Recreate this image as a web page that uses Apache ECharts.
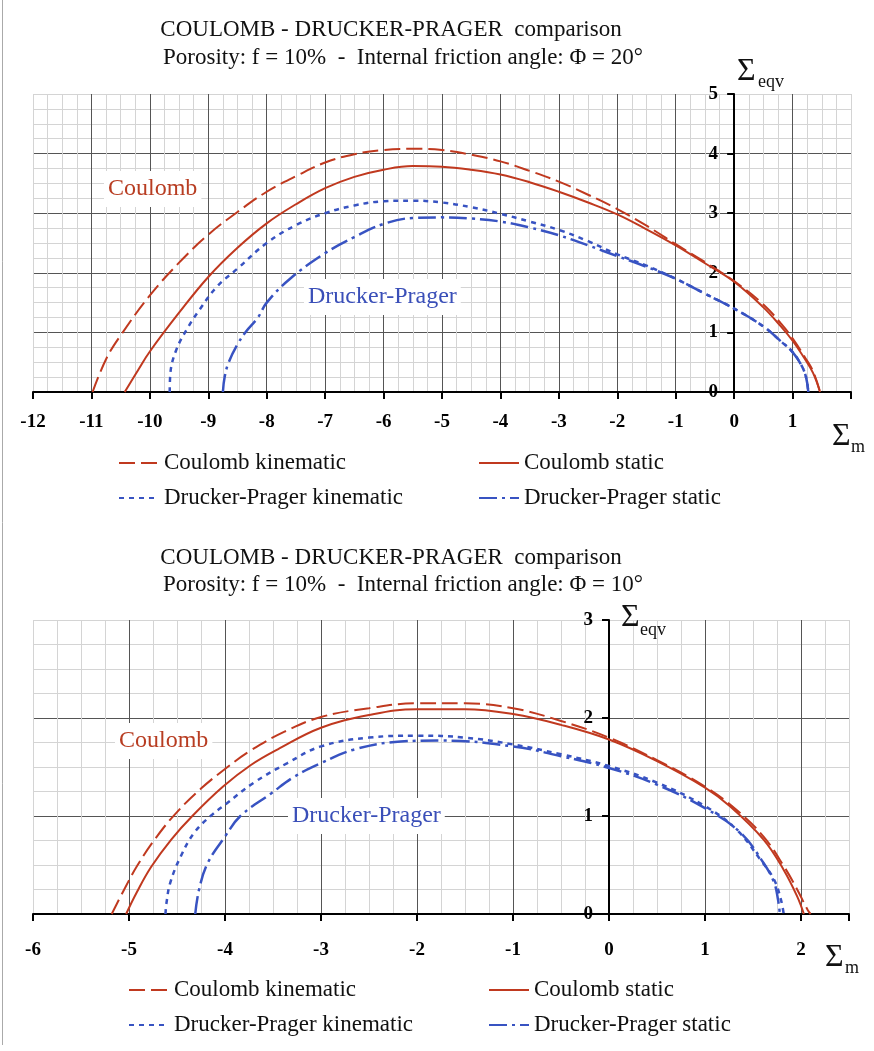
<!DOCTYPE html>
<html>
<head>
<meta charset="utf-8">
<script src="https://cdn.jsdelivr.net/npm/echarts/dist/echarts.min.js"></script>
<style>
  body { margin: 0; background: #fff; }
  #main { width: 874px; height: 1051px; }
</style>
</head>
<body>
<div id="main"></div>
<script>
  // ---- data ----
  // chart 1 : friction angle 20 deg
  var c1CoulKinX = [-10.98, -10.75, -10.5, -10.0, -9.5, -9.0, -8.5, -8.0, -7.5, -7.0, -6.5, -6.0, -5.5, -5.0, -4.5, -4.0, -3.5, -3.0, -2.5, -2.0, -1.5, -1.0, -0.5, 0, 0.5, 0.8, 1.0, 1.2, 1.35, 1.47];
  var c1CoulKinY = [0, 0.55, 0.95, 1.62, 2.17, 2.64, 3.02, 3.36, 3.62, 3.85, 3.99, 4.06, 4.08, 4.06, 3.98, 3.87, 3.71, 3.53, 3.31, 3.07, 2.79, 2.48, 2.18, 1.86, 1.47, 1.15, 0.9, 0.6, 0.35, 0];
  var c1CoulStaX = [-10.43, -10.2, -10.0, -9.5, -9.0, -8.5, -8.0, -7.5, -7.0, -6.5, -6.0, -5.5, -5.0, -4.5, -4.0, -3.5, -3.0, -2.5, -2.0, -1.5, -1.0, -0.5, 0, 0.5, 0.8, 1.0, 1.2, 1.35, 1.47];
  var c1CoulStaY = [0, 0.37, 0.68, 1.33, 1.93, 2.42, 2.83, 3.15, 3.42, 3.61, 3.73, 3.79, 3.78, 3.73, 3.65, 3.52, 3.36, 3.18, 2.98, 2.73, 2.46, 2.16, 1.85, 1.42, 1.1, 0.86, 0.57, 0.32, 0];
  var c1DpKinX = [-9.66, -9.65, -9.55, -9.35, -9.15, -8.85, -8.5, -8.0, -7.5, -7.0, -6.5, -6.0, -5.5, -5.0, -4.5, -4.0, -3.5, -3.0, -2.5, -2.0, -1.5, -1.0, -0.5, 0, 0.5, 0.8, 1.0, 1.15, 1.23, 1.27];
  var c1DpKinY = [0, 0.3, 0.7, 1.08, 1.38, 1.77, 2.07, 2.5, 2.8, 3.0, 3.13, 3.2, 3.21, 3.18, 3.1, 2.99, 2.86, 2.72, 2.53, 2.31, 2.12, 1.9, 1.65, 1.4, 1.1, 0.85, 0.67, 0.45, 0.25, 0];
  var c1DpStaX = [-8.75, -8.72, -8.65, -8.5, -8.35, -8.15, -8.0, -7.6, -7.0, -6.5, -6.0, -5.5, -5.0, -4.5, -4.0, -3.5, -3.0, -2.5, -2.0, -1.5, -1.0, -0.5, 0, 0.5, 0.8, 1.0, 1.15, 1.23, 1.27];
  var c1DpStaY = [0, 0.25, 0.5, 0.8, 1.02, 1.25, 1.5, 1.9, 2.33, 2.6, 2.82, 2.92, 2.93, 2.91, 2.86, 2.76, 2.63, 2.46, 2.28, 2.1, 1.9, 1.65, 1.4, 1.1, 0.85, 0.67, 0.45, 0.25, 0];

  // chart 2 : friction angle 10 deg
  var c2CoulKinX = [-5.18, -5.05, -4.91, -4.71, -4.5, -4.25, -4.0, -3.73, -3.38, -3.0, -2.5, -2.0, -1.5, -1.0, -0.5, 0, 0.5, 1.0, 1.33, 1.61, 1.82, 1.96, 2.07, 2.1];
  var c2CoulKinY = [0, 0.25, 0.5, 0.79, 1.04, 1.28, 1.48, 1.67, 1.86, 2.01, 2.1, 2.15, 2.15, 2.1, 1.97, 1.8, 1.57, 1.3, 1.06, 0.79, 0.49, 0.25, 0.04, 0];
  var c2CoulStaX = [-5.03, -4.92, -4.77, -4.56, -4.34, -4.02, -3.73, -3.45, -3.0, -2.5, -2.0, -1.5, -1.0, -0.5, 0, 0.5, 1.0, 1.26, 1.61, 1.82, 1.96, 2.03];
  var c2CoulStaY = [0, 0.22, 0.48, 0.76, 1.0, 1.3, 1.52, 1.68, 1.9, 2.03, 2.09, 2.09, 2.04, 1.93, 1.78, 1.56, 1.29, 1.1, 0.76, 0.45, 0.18, 0];
  var c2DpKinX = [-4.62, -4.61, -4.57, -4.46, -4.32, -4.15, -3.98, -3.7, -3.35, -3.0, -2.5, -2.0, -1.5, -1.0, -0.5, 0, 0.5, 1.0, 1.33, 1.58, 1.72, 1.79, 1.82];
  var c2DpKinY = [0, 0.11, 0.32, 0.59, 0.83, 1.0, 1.13, 1.34, 1.54, 1.71, 1.8, 1.82, 1.8, 1.73, 1.63, 1.51, 1.34, 1.1, 0.86, 0.55, 0.35, 0.15, 0];
  var c2DpStaX = [-4.31, -4.27, -4.18, -4.0, -3.84, -3.52, -3.28, -3.0, -2.65, -2.17, -1.75, -1.0, -0.5, 0, 0.5, 1.0, 1.37, 1.61, 1.72, 1.76, 1.78];
  var c2DpStaY = [0, 0.25, 0.52, 0.79, 1.0, 1.23, 1.4, 1.54, 1.68, 1.76, 1.77, 1.71, 1.61, 1.49, 1.32, 1.08, 0.83, 0.52, 0.32, 0.15, 0];

  var seriesNames = ['Coulomb kinematic', 'Coulomb static', 'Drucker-Prager kinematic', 'Drucker-Prager static'];

  var FONT = 'Liberation Serif';
  var RED = '#c0391f';
  var BLUE = '#3853c2';

  function pairs(xs, ys) {
    return xs.map(function (x, i) { return [x, ys[i]]; });
  }

  // line looks for the 4 curves
  var looks = [
    { color: RED, width: 2, type: [16, 6] },
    { color: RED, width: 2, type: 'solid' },
    { color: BLUE, width: 2.5, type: [5, 5] },
    { color: BLUE, width: 2.5, type: [18, 5, 3, 5] }
  ];

  function makeSeries(axisIdx, lists) {
    return lists.map(function (d, k) {
      return {
        name: seriesNames[k],
        type: 'line',
        xAxisIndex: axisIdx,
        yAxisIndex: axisIdx,
        data: pairs(d[0], d[1]),
        symbol: 'none',
        smooth: 0.4,
        z: 3 + k,
        itemStyle: { color: looks[k].color },
        lineStyle: { color: looks[k].color, width: looks[k].width, type: looks[k].type }
      };
    });
  }

  // light 0.25 grid
  function helperAxis(grid, min, max) {
    return {
      type: 'value', gridIndex: grid, min: min, max: max, interval: 0.25,
      axisLine: { show: false, onZero: false },
      axisTick: { show: false },
      axisLabel: { show: false },
      splitLine: { show: true, lineStyle: { color: '#d4d4d4', width: 1 } }
    };
  }

  function mainX(grid, min, max, margin, hide) {
    return {
      type: 'value', gridIndex: grid, min: min, max: max, interval: 1,
      axisLine: { onZero: true, lineStyle: { color: '#000', width: 2 } },
      axisTick: { show: true, length: 7, lineStyle: { color: '#000', width: 2 } },
      axisLabel: {
        margin: margin, color: '#000', fontFamily: FONT, fontWeight: 'bold', fontSize: 19,
        showMinLabel: true, showMaxLabel: true,
        formatter: function (v) { return v === hide ? '' : String(v); }
      },
      splitLine: { show: true, showMinLine: false, showMaxLine: false, lineStyle: { color: '#555', width: 1 } }
    };
  }

  // labels stay at the grid edge, so push them over to the x = 0 line
  function mainY(grid, max, labelMargin) {
    return {
      type: 'value', gridIndex: grid, min: 0, max: max, interval: 1,
      axisLine: { show: true, onZero: true, lineStyle: { color: '#000', width: 2 } },
      axisTick: { show: true, length: 7, lineStyle: { color: '#000', width: 2 } },
      axisLabel: {
        margin: labelMargin, color: '#000', fontFamily: FONT, fontWeight: 'bold', fontSize: 19,
        showMinLabel: true, showMaxLabel: true
      },
      splitLine: { show: true, showMaxLine: false, lineStyle: { color: '#555', width: 1 } }
    };
  }

  function txt(x, y, s, size, color, align, extra) {
    var st = {
      text: s, fontFamily: FONT, fontSize: size, fill: color,
      align: align, textAlign: align, verticalAlign: 'middle', textVerticalAlign: 'middle'
    };
    if (extra) { for (var k in extra) st[k] = extra[k]; }
    return { type: 'text', x: x, y: y, z: 1, style: st };
  }

  function legendBox(names, left, top) {
    return {
      data: names, orient: 'vertical', left: left, top: top, padding: 0,
      itemWidth: 40, itemHeight: 14, itemGap: 11,
      itemStyle: { opacity: 0 },
      textStyle: { fontFamily: FONT, fontSize: 23, color: '#111', lineHeight: 24 }
    };
  }

  var myChart = echarts.init(document.getElementById('main'));

  var option = {
    backgroundColor: '#fff',
    animation: false,
    grid: [
      { left: 33, top: 94, width: 818, height: 298 },
      { left: 33, top: 94, width: 818, height: 298 },
      { left: 33, top: 620, width: 816, height: 294 },
      { left: 33, top: 620, width: 816, height: 294 }
    ],
    xAxis: [
      helperAxis(0, -12, 2),
      mainX(1, -12, 2, 21, 2),
      helperAxis(2, -6, 2.5),
      mainX(3, -6, 2.5, 27, 2.5)
    ],
    yAxis: [
      helperAxis(0, 0, 5),
      mainY(1, 5, -685),
      helperAxis(2, 0, 3),
      mainY(3, 3, -560)
    ],
    legend: [
      legendBox(['Coulomb kinematic', 'Drucker-Prager kinematic'], 118, 451),
      legendBox(['Coulomb static', 'Drucker-Prager static'], 478, 451),
      legendBox(['Coulomb kinematic', 'Drucker-Prager kinematic'], 128, 978),
      legendBox(['Coulomb static', 'Drucker-Prager static'], 488, 978)
    ],
    graphic: [
      { type: 'line', z: 0, shape: { x1: 2.5, y1: 0, x2: 2.5, y2: 1045 }, style: { stroke: '#aaa', lineWidth: 1 } },
      // titles
      txt(391, 30, 'COULOMB - DRUCKER-PRAGER  comparison', 23, '#111', 'center'),
      txt(403, 58, 'Porosity: f = 10%  -  Internal friction angle: \u03A6 = 20\u00B0', 23, '#111', 'center'),
      txt(391, 558, 'COULOMB - DRUCKER-PRAGER  comparison', 23, '#111', 'center'),
      txt(403, 585, 'Porosity: f = 10%  -  Internal friction angle: \u03A6 = 10\u00B0', 23, '#111', 'center'),
      // axis names
      txt(737, 72, '\u03A3', 32, '#111', 'left'),
      txt(758, 82, 'eqv', 18, '#111', 'left'),
      txt(832, 437, '\u03A3', 32, '#111', 'left'),
      txt(851, 447, 'm', 18, '#111', 'left'),
      txt(621, 618, '\u03A3', 32, '#111', 'left'),
      txt(640, 630, 'eqv', 18, '#111', 'left'),
      txt(825, 958, '\u03A3', 32, '#111', 'left'),
      txt(845, 968, 'm', 18, '#111', 'left'),
      // curve family names
      txt(104, 189, 'Coulomb', 24, '#b83d22', 'left', { backgroundColor: '#fff', padding: [6, 4] }),
      txt(304, 297, 'Drucker-Prager', 24, '#3a4fb8', 'left', { backgroundColor: '#fff', padding: [6, 4] }),
      txt(115, 741, 'Coulomb', 24, '#b83d22', 'left', { backgroundColor: '#fff', padding: [6, 4] }),
      txt(288, 816, 'Drucker-Prager', 24, '#3a4fb8', 'left', { backgroundColor: '#fff', padding: [6, 4] })
    ],
    series: makeSeries(1, [
      [c1CoulKinX, c1CoulKinY], [c1CoulStaX, c1CoulStaY], [c1DpKinX, c1DpKinY], [c1DpStaX, c1DpStaY]
    ]).concat(makeSeries(3, [
      [c2CoulKinX, c2CoulKinY], [c2CoulStaX, c2CoulStaY], [c2DpKinX, c2DpKinY], [c2DpStaX, c2DpStaY]
    ]))
  };

  myChart.setOption(option);
</script>
</body>
</html>
